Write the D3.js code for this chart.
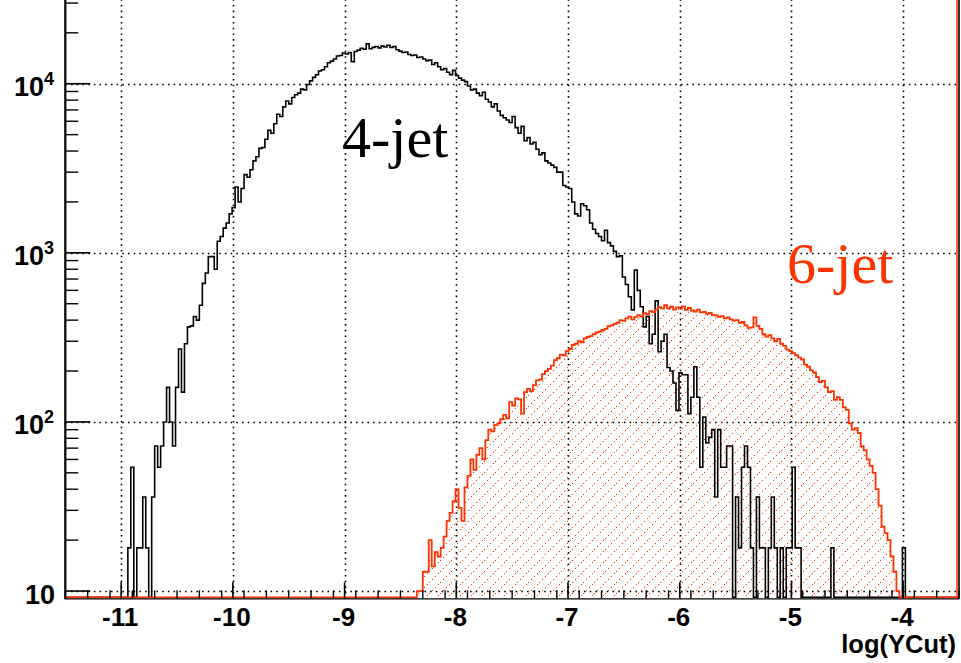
<!DOCTYPE html>
<html>
<head>
<meta charset="utf-8">
<script src="https://cdn.jsdelivr.net/npm/d3@7"></script>
<style>
  body { margin: 0; background: #fff; }
  svg { display: block; }
</style>
</head>
<body>
<div id="chart"></div>
<script>
// histogram binning: 300 bins over log(YCut) in [-11.5, -3.5]
const xMin = -11.5;
const xMax = -3.5;
const nBins = 300;

// 4-jet counts, starting at bin 21
const jet4FirstBin = 21;
const jet4Counts = [
  18, 54, 9, 18, 18, 36, 18, 9, 36, 72,
  54, 72, 100, 160, 100, 72, 160, 270, 150, 290,
  365, 370, 420, 400, 490, 660, 760, 950, 950, 800,
  1170, 1250, 1400, 1500, 1700, 1850, 2450, 2000, 2400, 2900,
  2800, 3100, 3500, 3700, 4150, 4200, 4700, 5300, 5100, 5800,
  6600, 6400, 7300, 7900, 7600, 8300, 8600, 8800, 9300, 9200,
  9900, 10400, 10900, 11300, 11900, 12100, 12600, 13300, 13600, 14000,
  14600, 14700, 15200, 15000, 15300, 13500, 15500, 15800, 16200, 16000,
  17200, 16100, 16400, 16600, 16300, 16700, 16500, 16900, 16400, 16600,
  15900, 15600, 15300, 15400, 14900, 14700, 14800, 14300, 14400, 14000,
  13700, 13800, 13000, 13300, 12600, 12100, 12300, 11700, 11300, 12000,
  11200, 10800, 10500, 10300, 9700, 9200, 9300, 8800, 8500, 8900,
  8100, 7800, 7300, 7600, 6900, 6500, 6300, 6100, 5900, 6400,
  5500, 5100, 5600, 4600, 4800, 4400, 4500, 4100, 3800, 3900,
  3500, 3400, 3300, 3200, 3000, 3000, 2500, 2450, 2400, 2000,
  1700, 1650, 1950, 1900, 1800, 1500, 1380, 1300, 1250, 1180,
  1360, 1150, 1100, 1020, 950, 960, 720, 650, 550, 460,
  790, 600, 480, 365, 420, 290, 330, 520, 260, 300,
  330, 210, 200, 170, 117, 195, 190, 190, 112, 140,
  212, 140, 54, 107, 75, 81, 90, 36, 90, 54,
  54, 72, 72, 9, 36, 18, 54, 72, 54, 18,
  0, 36, 18, 18, 0, 18, 36, 18, 0, 18,
  9, 18, 18, 54, 18, 18, 0, 0, 9, 0,
  0, 0, 9, 0, 0, 0, 18, 0, 0, 0,
  0, 0, 0, 0, 0, 0, 0, 0, 0, 0,
  0, 0, 0, 0, 0, 0, 0, 0, 0, 0,
  18
];

// 6-jet counts, starting at bin 118
const jet6FirstBin = 118;
const jet6Counts = [
  10, 10, 13, 13, 20, 14, 17, 16, 18, 21,
  26, 29, 34, 40, 31, 26, 41, 48, 60, 52,
  64, 70, 60, 78, 90, 88, 96, 98, 104, 110,
  105, 131, 125, 138, 136, 112, 150, 157, 152, 165,
  176, 178, 192, 200, 206, 215, 232, 238, 250, 248,
  262, 270, 285, 290, 300, 296, 312, 318, 322, 330,
  338, 342, 350, 355, 368, 372, 380, 386, 400, 396,
  410, 420, 404, 418, 428, 420, 440, 432, 452, 446,
  462, 478, 470, 490, 470, 480, 462, 476, 468, 482,
  460, 472, 456, 450, 462, 444, 448, 436, 442, 430,
  426, 418, 422, 410, 415, 404, 398, 400, 385, 390,
  372, 360, 362, 415, 370, 355, 330, 320, 326, 312,
  300, 310, 290, 282, 268, 262, 255, 248, 240, 234,
  218, 212, 202, 196, 184, 172, 175, 160, 150, 152,
  135, 140, 135, 122, 118, 98, 90, 92, 86, 72,
  68, 60, 55, 50, 40, 32, 24, 22, 20, 16,
  13, 10
];

const xTickValues = [-11, -10, -9, -8, -7, -6, -5, -4];
const yDecades = [10, 100, 1000, 10000];
const yDecadeExp = ["", "2", "3", "4"];
const xTitle = "log(YCut)";
const labels4 = "4-jet";
const labels6 = "6-jet";

const width = 961;
const height = 663;
const red = "#ff3300";

const plotLeft = 65.3, plotRight = 959, plotBottom = 598.3, plotTop = -0.8;
const yMin = Math.pow(10, 0.957);
const yMax = Math.pow(10, 4.5);

const x = d3.scaleLinear().domain([xMin, xMax]).range([plotLeft, plotRight]);
const y = d3.scaleLog().domain([yMin, yMax]).range([plotBottom, plotTop]);

const svg = d3.select("#chart")
  .append("svg")
  .attr("width", width)
  .attr("height", height);

const defs = svg.append("defs");
defs.append("clipPath").attr("id", "plot-clip")
  .append("rect")
  .attr("x", plotLeft).attr("y", plotTop)
  .attr("width", plotRight - plotLeft).attr("height", plotBottom - plotTop + 1);

const hatch = defs.append("pattern")
  .attr("id", "hatch")
  .attr("patternUnits", "userSpaceOnUse")
  .attr("width", 11)
  .attr("height", 11);
hatch.append("path")
  .attr("d", "M0,11 L11,0 M-1,1 L1,-1 M10,12 L12,10")
  .attr("stroke", red)
  .attr("stroke-width", 1)
  .attr("stroke-dasharray", "1.6,2.6");

// grid
const gridDash = "1.6,4.1";
const grid = svg.append("g").attr("clip-path", "url(#plot-clip)");
grid.selectAll("line.vgrid")
  .data(xTickValues)
  .enter().append("line")
  .attr("x1", d => Math.round(x(d)) + 0.5).attr("x2", d => Math.round(x(d)) + 0.5)
  .attr("y1", plotTop).attr("y2", plotBottom)
  .attr("stroke", "#000").attr("stroke-width", 1.6)
  .attr("stroke-dasharray", gridDash);
grid.selectAll("line.hgrid")
  .data(yDecades)
  .enter().append("line")
  .attr("x1", plotLeft).attr("x2", plotRight)
  .attr("y1", d => Math.round(y(d)) + 0.5).attr("y2", d => Math.round(y(d)) + 0.5)
  .attr("stroke", "#000").attr("stroke-width", 1.6)
  .attr("stroke-dasharray", gridDash);

// bins -> points
const binWidth = (xMax - xMin) / nBins;
const yBottom = plotBottom - 1;

function binPoints(first, counts) {
  const pts = [];
  for (let i = 0; i < nBins; i++) {
    const c = (i >= first && i < first + counts.length) ? counts[i - first] : 0;
    pts.push({ x0: xMin + i * binWidth, c: c });
  }
  pts.push({ x0: xMax, c: pts[pts.length - 1].c });
  return pts;
}
const yOf = d => d.c > yMin ? y(d.c) : yBottom;

const pts4 = binPoints(jet4FirstBin, jet4Counts);
const pts6 = binPoints(jet6FirstBin, jet6Counts);

const stepLine = d3.line()
  .x(d => x(d.x0))
  .y(yOf)
  .curve(d3.curveStepAfter);

const stepArea = d3.area()
  .x(d => x(d.x0))
  .y0(yBottom)
  .y1(yOf)
  .curve(d3.curveStepAfter);

const hists = svg.append("g").attr("clip-path", "url(#plot-clip)");

hists.append("path")
  .datum(pts6)
  .attr("d", stepArea)
  .attr("fill", "url(#hatch)");

hists.append("path")
  .datum(pts4)
  .attr("d", stepLine)
  .attr("fill", "none")
  .attr("stroke", "#000")
  .attr("stroke-width", 1.6);

hists.append("path")
  .datum(pts6)
  .attr("d", stepLine)
  .attr("fill", "none")
  .attr("stroke", red)
  .attr("stroke-width", 1.8);

// red edge at the right end of the 6-jet histogram frame
hists.append("line")
  .attr("x1", plotRight - 2).attr("x2", plotRight - 2)
  .attr("y1", plotTop).attr("y2", plotBottom)
  .attr("stroke", red).attr("stroke-width", 1.5);

// frame
const axes = svg.append("g");
axes.append("line")
  .attr("x1", plotLeft).attr("x2", plotLeft)
  .attr("y1", plotTop).attr("y2", plotBottom + 1)
  .attr("stroke", "#000").attr("stroke-width", 2.2);
axes.append("line")
  .attr("x1", plotRight).attr("x2", plotRight)
  .attr("y1", plotTop).attr("y2", plotBottom + 1)
  .attr("stroke", "#000").attr("stroke-width", 1.6);
axes.append("line")
  .attr("x1", plotLeft).attr("x2", plotRight)
  .attr("y1", plotBottom + 0.6).attr("y2", plotBottom + 0.6)
  .attr("stroke", "#000").attr("stroke-width", 1.2);

// x ticks (inside the frame)
const xMinor = d3.range(0, 41).map(k => xMin + k * 0.2)
  .filter(v => Math.abs(v - Math.round(v)) > 1e-6);
axes.selectAll("line.xmaj")
  .data(xTickValues)
  .enter().append("line")
  .attr("x1", d => x(d)).attr("x2", d => x(d))
  .attr("y1", plotBottom).attr("y2", plotBottom - 16)
  .attr("stroke", "#000").attr("stroke-width", 1.6);
axes.selectAll("line.xmin")
  .data(xMinor)
  .enter().append("line")
  .attr("x1", d => x(d)).attr("x2", d => x(d))
  .attr("y1", plotBottom).attr("y2", plotBottom - 8)
  .attr("stroke", "#000").attr("stroke-width", 1.4);

axes.selectAll("text.xlab")
  .data(xTickValues)
  .enter().append("text")
  .attr("x", d => x(d) - 1)
  .attr("y", 626)
  .attr("text-anchor", "middle")
  .attr("font-family", "'Liberation Sans', Arial, sans-serif")
  .attr("font-weight", "bold")
  .attr("font-size", 26)
  .attr("fill", "#000")
  .text(d => d);

axes.append("text")
  .attr("x", 956)
  .attr("y", 653)
  .attr("text-anchor", "end")
  .attr("font-family", "'Liberation Sans', Arial, sans-serif")
  .attr("font-weight", "bold")
  .attr("font-size", 25.5)
  .attr("fill", "#000")
  .text(xTitle);

// y ticks
const yMinor = [];
[1, 10, 100, 1000, 10000].forEach(dec => {
  for (let k = 2; k <= 9; k++) {
    const v = k * dec;
    if (v > yMin && v < yMax) yMinor.push(v);
  }
});
axes.selectAll("line.ymaj")
  .data(yDecades)
  .enter().append("line")
  .attr("x1", plotLeft).attr("x2", plotLeft + 25)
  .attr("y1", d => y(d)).attr("y2", d => y(d))
  .attr("stroke", "#000").attr("stroke-width", 1.6);
axes.selectAll("line.ymin")
  .data(yMinor)
  .enter().append("line")
  .attr("x1", plotLeft).attr("x2", plotLeft + 13)
  .attr("y1", d => y(d)).attr("y2", d => y(d))
  .attr("stroke", "#000").attr("stroke-width", 1.4);

const ylab = axes.selectAll("text.ylab")
  .data(yDecades)
  .enter().append("text")
  .attr("x", (d, i) => i === 0 ? 55 : 54)
  .attr("y", d => y(d) + 12.5)
  .attr("text-anchor", "end")
  .attr("font-family", "'Liberation Sans', Arial, sans-serif")
  .attr("font-weight", "bold")
  .attr("font-size", 27)
  .attr("fill", "#000");
ylab.append("tspan").text("10");
ylab.filter((d, i) => yDecadeExp[i] !== "")
  .append("tspan")
  .attr("dy", -11)
  .attr("font-size", 18)
  .text(d => yDecadeExp[yDecades.indexOf(d)]);

// labels
svg.append("text")
  .attr("x", 342)
  .attr("y", 156.7)
  .attr("font-family", "'Liberation Serif', 'Times New Roman', serif")
  .attr("font-size", 58)
  .attr("fill", "#000")
  .text(labels4);

svg.append("text")
  .attr("x", 787)
  .attr("y", 283)
  .attr("font-family", "'Liberation Serif', 'Times New Roman', serif")
  .attr("font-size", 58)
  .attr("fill", red)
  .text(labels6);
</script>
</body>
</html>
